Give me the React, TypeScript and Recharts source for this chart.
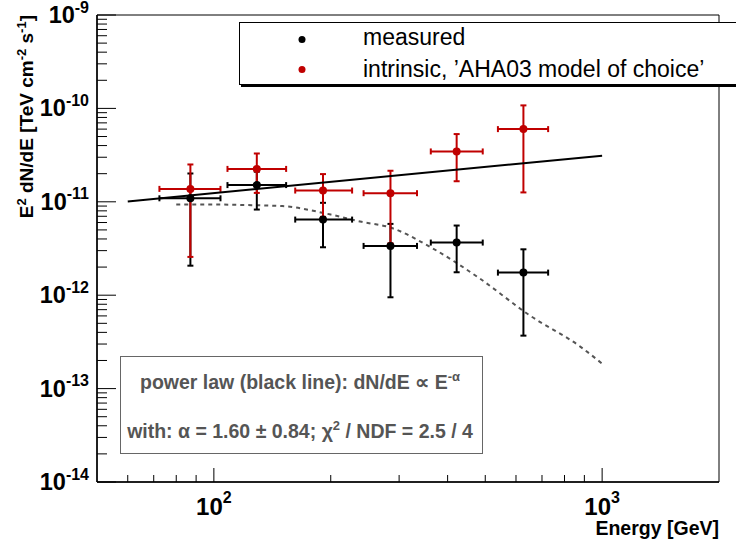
import React from "react";
import {
  ComposedChart,
  Scatter,
  Line,
  XAxis,
  YAxis,
  ErrorBar,
  ReferenceArea,
} from "recharts";

// bins (GeV)
const energy = [87, 129, 191, 285, 422, 627];
const energyLow = [72.4, 108.4, 162, 243, 362, 539];
const energyHigh = [104, 153.5, 227, 333.6, 492.6, 726];

// measured flux E^2 dN/dE
const measured = [1.09e-11, 1.51e-11, 6.45e-12, 3.37e-12, 3.66e-12, 1.745e-12];
const measuredLow = [2.07e-12, 8.26e-12, 3.26e-12, 9.5e-13, 1.76e-12, 3.69e-13];
const measuredHigh = [2.01e-11, 2.1e-11, 9.75e-12, 5.8e-12, 5.57e-12, 3.1e-12];

// intrinsic (deabsorbed) flux
const intrinsic = [1.375e-11, 2.25e-11, 1.32e-11, 1.236e-11, 3.46e-11, 6.0e-11];
const intrinsicLow = [2.57e-12, 1.245e-11, 6.9e-12, 3.6e-12, 1.66e-11, 1.26e-11];
const intrinsicHigh = [2.51e-11, 3.29e-11, 1.98e-11, 2.15e-11, 5.31e-11, 1.077e-10];

// power law fit, end points
const fitE = [60, 1000];
const fitFlux = [1.01e-11, 3.12e-11];

// dashed curve
const curveE = [80, 100, 125, 150, 200, 240, 285, 360, 485, 650, 880, 1000];
const curveFlux = [
  9.35e-12, 9.35e-12, 9.2e-12, 9.0e-12, 7.3e-12, 6.1e-12, 5.3e-12, 3.3e-12,
  1.5e-12, 6.1e-13, 2.8e-13, 1.85e-13,
];

const xTicks = [60, 70, 80, 90, 100, 200, 300, 400, 500, 600, 700, 800, 900, 1000];
const yDecades = [1e-14, 1e-13, 1e-12, 1e-11, 1e-10, 1e-9];
const yMinor = [2, 3, 4, 5, 6, 7, 8, 9];

const legendLabels = ["measured", "intrinsic, \u2019AHA03 model of choice\u2019"];

const W = 736;
const H = 545;
const FONT = '"Liberation Sans", Arial, Helvetica, sans-serif';
const RED = "#c00000";

const yTicks: number[] = [];
yDecades.forEach((d, i) => {
  yTicks.push(d);
  if (i < yDecades.length - 1) yMinor.forEach((m) => yTicks.push(m * d));
});

const withErrors = (vals: number[], lo: number[], hi: number[]) =>
  energy.map((e, i) => ({
    x: e,
    y: vals[i],
    ex: [e - energyLow[i], energyHigh[i] - e],
    ey: [vals[i] - lo[i], hi[i] - vals[i]],
  }));

const measuredData = withErrors(measured, measuredLow, measuredHigh);
const intrinsicData = withErrors(intrinsic, intrinsicLow, intrinsicHigh);
const fitData = fitE.map((e, i) => ({ x: e, y: fitFlux[i] }));
const curveData = curveE.map((e, i) => ({ x: e, y: curveFlux[i] }));

function isDecade(v: number) {
  const l = Math.log10(v);
  return Math.abs(l - Math.round(l)) < 1e-6;
}

function YTick(props: any) {
  const { x, y, payload } = props;
  const v = payload.value;
  const major = isDecade(v);
  const exp = Math.round(Math.log10(v));
  return (
    <g>
      <line x1={x} x2={x + (major ? 19 : 10)} y1={y} y2={y} stroke="#000" strokeWidth={1} />
      {major && (
        <text x={x - 8} y={y + 8} textAnchor="end" fontFamily={FONT} fontWeight="bold" fontSize={23.5} fill="#000">
          10
          <tspan fontSize={16} dy={-10.5}>
            {exp}
          </tspan>
        </text>
      )}
    </g>
  );
}

function XTick(props: any) {
  const { x, y, payload } = props;
  const v = payload.value;
  const major = isDecade(v);
  const exp = Math.round(Math.log10(v));
  return (
    <g>
      <line x1={x} x2={x} y1={y} y2={y - (major ? 14 : 7)} stroke="#000" strokeWidth={1} />
      {major && (
        <text x={x} y={y + 33} textAnchor="middle" fontFamily={FONT} fontWeight="bold" fontSize={24} fill="#000">
          10
          <tspan fontSize={16} dy={-12}>
            {exp}
          </tspan>
        </text>
      )}
    </g>
  );
}

const dot = (color: string) => (p: any) => <circle cx={p.cx} cy={p.cy} r={4} fill={color} />;

export default function App() {
  return (
    <div
      style={{
        position: "absolute",
        left: 0,
        top: 0,
        width: W,
        height: H,
        overflow: "hidden",
        background: "#fff",
      }}
    >
      <ComposedChart width={W} height={H} margin={{ top: 15, right: 17, bottom: 0, left: 0 }}>
        <XAxis
          dataKey="x"
          type="number"
          scale="log"
          domain={[50, 2000]}
          allowDataOverflow
          ticks={xTicks}
          interval={0}
          tick={<XTick />}
          tickLine={false}
          tickSize={0}
          tickMargin={0}
          axisLine={{ stroke: "#000", strokeWidth: 1.5 }}
          height={63}
        />
        <YAxis
          dataKey="y"
          type="number"
          scale="log"
          domain={[1e-14, 1e-9]}
          allowDataOverflow
          ticks={yTicks}
          interval={0}
          tick={<YTick />}
          tickLine={false}
          tickSize={0}
          tickMargin={0}
          axisLine={{ stroke: "#000", strokeWidth: 1.5 }}
          width={97}
        />
        <ReferenceArea x1={50} x2={2000} y1={1e-14} y2={1e-9} fill="none" stroke="#000" strokeWidth={1} />
        <Line
          data={curveData}
          dataKey="y"
          type="monotone"
          stroke="#555"
          strokeWidth={2}
          strokeDasharray="4 4"
          dot={false}
          isAnimationActive={false}
        />
        <Scatter data={measuredData} dataKey="y" fill="#000" shape={dot("#000")} isAnimationActive={false}>
          <ErrorBar dataKey="ex" direction="x" width={3} stroke="#000" strokeWidth={2} isAnimationActive={false} />
          <ErrorBar dataKey="ey" direction="y" width={3} stroke="#000" strokeWidth={2} isAnimationActive={false} />
        </Scatter>
        <Scatter data={intrinsicData} dataKey="y" fill={RED} shape={dot(RED)} isAnimationActive={false}>
          <ErrorBar dataKey="ex" direction="x" width={3} stroke={RED} strokeWidth={2} isAnimationActive={false} />
          <ErrorBar dataKey="ey" direction="y" width={3} stroke={RED} strokeWidth={2} isAnimationActive={false} />
        </Scatter>
        <Line
          data={fitData}
          dataKey="y"
          type="linear"
          stroke="#000"
          strokeWidth={2}
          dot={false}
          isAnimationActive={false}
        />
      </ComposedChart>

      <svg
        width={W}
        height={H}
        style={{ position: "absolute", left: 0, top: 0, pointerEvents: "none" }}
        fontFamily={FONT}
      >
        {/* legend */}
        <rect x={241} y={25} width={520} height={62} fill="#000" />
        <rect x={239.5} y={22.5} width={520} height={62} fill="#fff" stroke="#000" strokeWidth={1} />
        <circle cx={302} cy={39.5} r={3.5} fill="#000" />
        <circle cx={302} cy={69.5} r={3.5} fill={RED} />
        <text x={363} y={45} fontSize={23} fill="#000">
          {legendLabels[0]}
        </text>
        <text x={363} y={77} fontSize={23} fill="#000">
          {legendLabels[1]}
        </text>

        {/* fit result box */}
        <rect x={120.5} y={356.5} width={362} height={97} fill="#fff" stroke="#666" strokeWidth={1} />
        <text x={300} y={389} textAnchor="middle" fontSize={19.5} fontWeight="bold" fill="#555">
          power law (black line): dN/dE {"\u221d"} E
          <tspan fontSize={13} dy={-8}>
            -{"\u03b1"}
          </tspan>
        </text>
        <text x={300} y={438} textAnchor="middle" fontSize={19.5} fontWeight="bold" fill="#555">
          with: {"\u03b1"} = 1.60 {"\u00b1"} 0.84; {"\u03c7"}
          <tspan fontSize={13} dy={-8}>
            2
          </tspan>
          <tspan dy={8}> / NDF = 2.5 / 4</tspan>
        </text>

        {/* axis titles */}
        <text
          x={33}
          y={15}
          transform="rotate(-90 33 15)"
          textAnchor="end"
          fontSize={19}
          fontWeight="bold"
          fill="#000"
        >
          E
          <tspan fontSize={13} dy={-7.5}>
            2
          </tspan>
          <tspan dy={7.5}> dN/dE [TeV cm</tspan>
          <tspan fontSize={13} dy={-7.5}>
            -2
          </tspan>
          <tspan dy={7.5}> s</tspan>
          <tspan fontSize={13} dy={-7.5}>
            -1
          </tspan>
          <tspan dy={7.5}>]</tspan>
        </text>
        <text x={719} y={535} textAnchor="end" fontSize={19.5} fontWeight="bold" fill="#000">
          Energy [GeV]
        </text>
      </svg>
    </div>
  );
}
